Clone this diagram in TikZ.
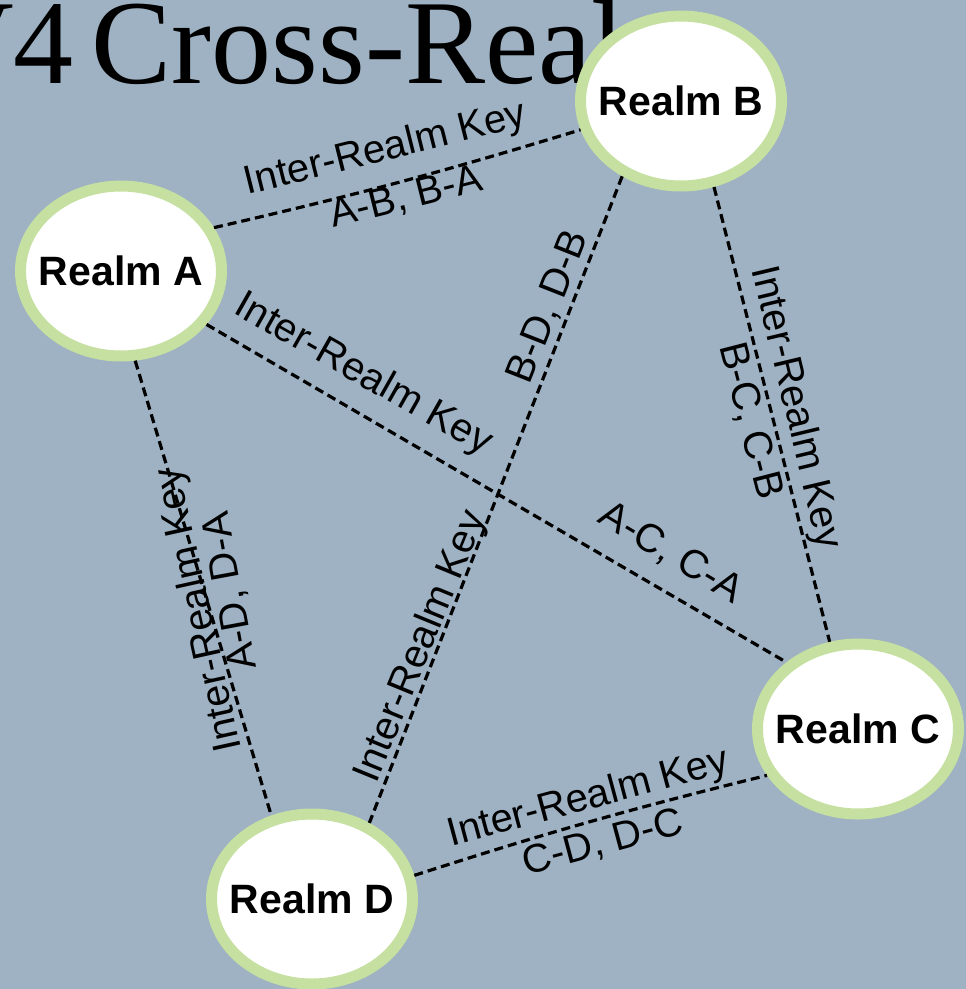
\documentclass[tikz,border=0pt]{standalone}
\usepackage{fontspec}
\usepackage{tikz}
\usetikzlibrary{shapes.geometric}
\newfontfamily\realmfont{Liberation Sans}
\newfontfamily\titlefont{Liberation Serif}
\definecolor{RealmSlate}{RGB}{158,178,195}
\definecolor{RealmRing}{RGB}{197,224,160}

\begin{document}
\begin{tikzpicture}[x=1pt,y=-1pt,
  realm/.style={ellipse,draw=RealmRing,line width=11pt,fill=white,minimum width=201pt,minimum height=170pt,inner xsep=-12pt,inner ysep=0pt,font=\realmfont\bfseries\fontsize{41}{41}\selectfont},
  irk/.style={dash pattern=on 9pt off 5pt,line width=3.2pt},
  lbl/.style={anchor=base,inner sep=0pt,font=\realmfont\fontsize{40}{40}\selectfont}]
\fill[RealmSlate] (0,0) rectangle (966,989);
\useasboundingbox (0,0) rectangle (966,989);
\clip (0,0) rectangle (966,989);
\node[anchor=base west,inner sep=0pt,font=\titlefont\fontsize{120}{120}\selectfont] (title) at (-73,83) {V4\hspace{-0.1em} Cross-Real};
% the four realms
\node[realm] (A) at (121,271) {Realm A};
\node[realm] (B) at (681,101) {Realm B};
\node[realm] (C) at (858,729) {Realm C};
\node[realm] (D) at (312,899) {Realm D};
% inter-realm keys
\draw[irk] (A.25) to[bend right=2] (B.196);
\draw[irk] (A.-32) -- (C.137.6);
\draw[irk] (A.-81.6) -- (D.116);
\draw[irk] (B.232.5) -- (D.53.8);
\draw[irk] (B.-69) -- (C.108);
\draw[irk] (D.13.3) to[bend left=2] (C.207);
\foreach \i/\x/\y/\r/\t in %
{1/388/160/14/{Inter-Realm Key},2/409/209/14/{A-B, B-A},
 3/358/384/-29.5/{Inter-Realm Key},4/665/563/-31/{A-C, C-A},
 5/210/607/102.5/{Inter-Realm Key},6/242/589/100.5/{A-D, D-A},
 7/559/311/68.5/{B-D, D-B},8/431/651/67.7/{Inter-Realm Key},
 9/785/410/-76.6/{Inter-Realm Key},10/739/424/-75.6/{B-C, C-B},
 11/591/809/15/{Inter-Realm Key},12/606/854/15/{C-D, D-C}} {
   \node[lbl,rotate=\r] (k\i) at (\x,\y) {\t};
}
\end{tikzpicture}
\end{document}
